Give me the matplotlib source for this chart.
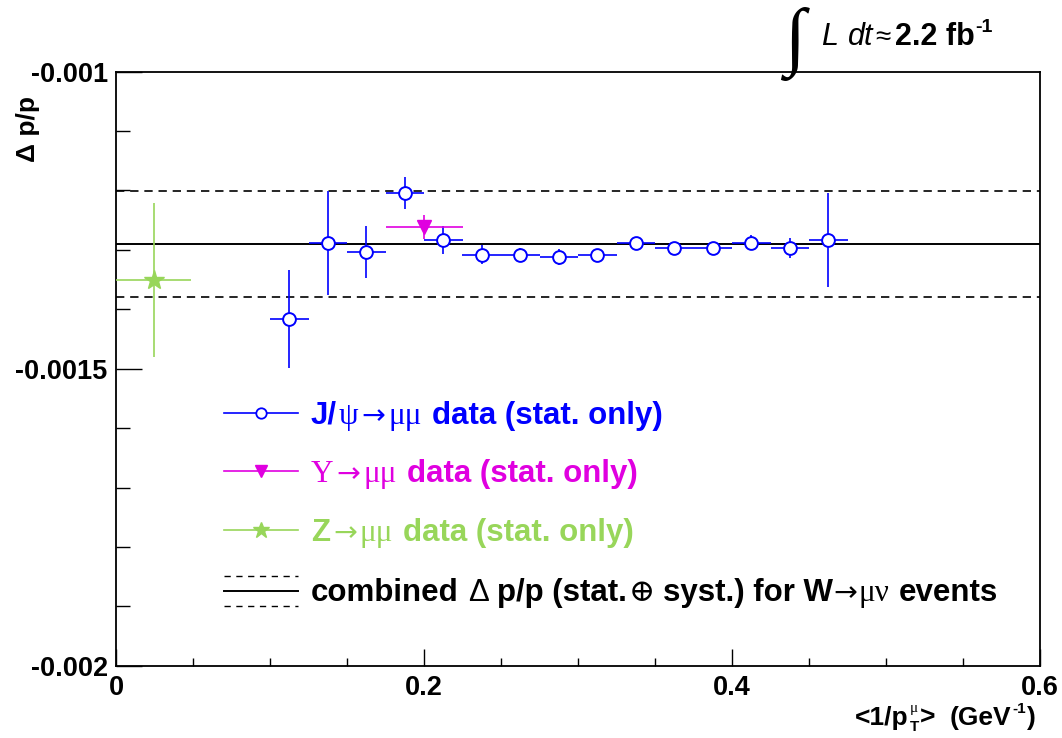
import matplotlib
matplotlib.use("Agg")
import matplotlib.pyplot as plt
from matplotlib.ticker import FixedLocator, MultipleLocator, FixedFormatter
from matplotlib.lines import Line2D

# ---------------- data ----------------
jpsi_x = [0.1125, 0.1375, 0.1625, 0.1875, 0.2125, 0.2375, 0.2625, 0.2875,
          0.3125, 0.3375, 0.3625, 0.3875, 0.4125, 0.4375, 0.4625]
jpsi_xerr = [0.0125] * 15
jpsi_y = [-0.001416, -0.001288, -0.001304, -0.001204, -0.001284, -0.001308,
          -0.001308, -0.0013125, -0.001308, -0.001288, -0.001297, -0.001297,
          -0.001288, -0.001297, -0.001284]
jpsi_yerr = [0.000082, 0.000088, 0.0000435, 0.0000275, 0.0000235, 0.0000163,
             0.0000118, 0.0000135, 0.000008, 0.000008, 0.000006, 0.000006,
             0.000013, 0.0000168, 0.000079]

ups_x = [0.2]
ups_xerr = [0.025]
ups_y = [-0.001261]
ups_yerr = [0.00002]

z_x = [0.0245]
z_xerr = [0.0245]
z_y = [-0.001351]
z_yerr = [0.00013]

w_central = -0.00129
w_band = [-0.0012, -0.00138]

x_ticks = [0.0, 0.2, 0.4, 0.6]
x_ticklabels = ["0", "0.2", "0.4", "0.6"]
y_ticks = [-0.002, -0.0015, -0.001]
y_ticklabels = ["-0.002", "-0.0015", "-0.001"]

BLUE = "#0000ff"
MAG = "#e000e0"
GREEN = "#98d65a"

SANS = ["Liberation Sans", "DejaVu Sans"]
SERIF = ["Liberation Serif", "DejaVu Serif"]
ARROWF = ["DejaVu Sans"]

plt.rcParams["font.family"] = SANS
plt.rcParams["font.weight"] = "bold"

W, H = 1062, 738
fig = plt.figure(figsize=(W / 100, H / 100), dpi=100)
fig.patch.set_facecolor("white")

X0, X1, YT, YB = 116, 1040, 71.7, 665.7
ax = fig.add_axes([X0 / W, 1 - YB / H, (X1 - X0) / W, (YB - YT) / H])
ax.set_xlim(0, 0.6)
ax.set_ylim(-0.002, -0.001)

for s in ax.spines.values():
    s.set_linewidth(1.3)

ax.xaxis.set_major_locator(FixedLocator(x_ticks))
ax.xaxis.set_major_formatter(FixedFormatter(x_ticklabels))
ax.xaxis.set_minor_locator(MultipleLocator(0.05))
ax.yaxis.set_major_locator(FixedLocator(y_ticks))
ax.yaxis.set_major_formatter(FixedFormatter(y_ticklabels))
ax.yaxis.set_minor_locator(MultipleLocator(0.0001))

ax.tick_params(axis="x", which="major", direction="in", length=12, width=1.0,
               top=False, labelsize=19.5, pad=7)
ax.tick_params(axis="x", which="minor", direction="in", length=6, width=1.0, top=False)
ax.tick_params(axis="y", which="major", direction="in", length=19, width=1.0,
               right=False, labelsize=19.5, pad=6)
ax.tick_params(axis="y", which="minor", direction="in", length=10, width=1.0, right=False)
for lab in ax.get_xticklabels() + ax.get_yticklabels():
    lab.set_fontweight("bold")

# W reference lines
ax.axhline(w_central, color="black", lw=1.4, zorder=2)
for yb in w_band:
    ax.axhline(yb, color="black", lw=1.2, ls=(0, (5, 3.5)), zorder=2)

# data
ax.errorbar(jpsi_x, jpsi_y, xerr=jpsi_xerr, yerr=jpsi_yerr, fmt="none",
            ecolor=BLUE, elinewidth=1.2, capsize=0, zorder=3)
ax.plot(jpsi_x, jpsi_y, "o", mfc="white", mec=BLUE, ms=9.2, mew=1.4, zorder=4)

ax.errorbar(ups_x, ups_y, xerr=ups_xerr, yerr=ups_yerr, fmt="none",
            ecolor=MAG, elinewidth=1.2, capsize=0, zorder=3)
ax.plot(ups_x, ups_y, "v", color=MAG, ms=10, zorder=4)

ax.errorbar(z_x, z_y, xerr=z_xerr, yerr=z_yerr, fmt="none",
            ecolor=GREEN, elinewidth=1.2, capsize=0, zorder=3, clip_on=True)
ax.plot(z_x, z_y, "*", color=GREEN, ms=15, zorder=4)


def fx(px):
    return px / W


def fy(py):
    return 1 - py / H


renderer = fig.canvas.get_renderer()


def seg_text(x_px, base_px, segs, color="black"):
    x = x_px
    for s in segs:
        x += s.get("gap", 0)
        t = fig.text(fx(x), fy(base_px - s.get("dy", 0)), s["t"],
                     fontsize=s.get("size", 20), family=s.get("family", SANS),
                     weight=s.get("weight", "bold"), style=s.get("style", "normal"),
                     color=color, ha="left", va="baseline")
        if s.get("adv", True):
            x += t.get_window_extent(renderer).width
    return x


# ---------------- legend ----------------
LX0, LX1 = 224, 298
LXM = (LX0 + LX1) / 2
rows = [413, 471, 530]
fig.add_artist(Line2D([fx(LX0), fx(LX1)], [fy(rows[0])] * 2, color=BLUE, lw=1.2))
fig.add_artist(Line2D([fx(LXM)], [fy(rows[0])], marker="o", mfc="white", mec=BLUE,
                      ms=7.5, mew=1.3, lw=0))
fig.add_artist(Line2D([fx(LX0), fx(LX1)], [fy(rows[1])] * 2, color=MAG, lw=1.2))
fig.add_artist(Line2D([fx(LXM)], [fy(rows[1])], marker="v", color=MAG, ms=9, lw=0))
fig.add_artist(Line2D([fx(LX0), fx(LX1)], [fy(rows[2])] * 2, color=GREEN, lw=1.2))
fig.add_artist(Line2D([fx(LXM)], [fy(rows[2])], marker="*", color=GREEN, ms=12, lw=0))
fig.add_artist(Line2D([fx(LX0), fx(LX1)], [fy(590.5)] * 2, color="black", lw=1.4))
for yy in (576, 606):
    fig.add_artist(Line2D([fx(LX0), fx(LX1)], [fy(yy)] * 2, color="black", lw=1.0,
                          ls=(0, (4.5, 4))))

FS = 22.5
sym = dict(family=SERIF, weight="normal", size=FS)
arr = dict(family=ARROWF, weight="normal", size=FS - 2)
seg_text(311, rows[0] + 11, [
    dict(t="J/", size=FS),
    dict(t="\u03c8", gap=2, **sym),
    dict(t="\u2192", gap=3, **arr),
    dict(t="\u03bc\u03bc", gap=3, **sym),
    dict(t="data (stat. only)", gap=10, size=FS),
], BLUE)
seg_text(311, rows[1] + 11, [
    dict(t="\u03a5", **sym),
    dict(t="\u2192", gap=3, **arr),
    dict(t="\u03bc\u03bc", gap=3, **sym),
    dict(t="data (stat. only)", gap=10, size=FS),
], MAG)
seg_text(311, rows[2] + 11, [
    dict(t="Z", size=FS),
    dict(t="\u2192", gap=3, **arr),
    dict(t="\u03bc\u03bc", gap=3, **sym),
    dict(t="data (stat. only)", gap=10, size=FS),
], GREEN)
seg_text(311, 590 + 11, [
    dict(t="combined", size=FS),
    dict(t="\u0394", gap=9, size=FS, weight="normal"),
    dict(t="p/p (stat.", gap=8, size=FS),
    dict(t="\u2295", gap=2, family=SERIF, weight="normal", size=FS),
    dict(t="syst.) for W", gap=8, size=FS),
    dict(t="\u2192", gap=1, **arr),
    dict(t="\u03bc\u03bd", gap=1, **sym),
    dict(t="events", gap=9, size=FS),
], "black")

# ---------------- top luminosity label ----------------
fig.text(fx(784), fy(61), "\u222b", fontsize=55, family=SERIF, weight="normal",
         ha="left", va="baseline")
fig.text(fx(821), fy(45), "L", fontsize=22, style="italic", weight="normal",
         ha="left", va="baseline")
fig.text(fx(848), fy(45), "dt", fontsize=22, style="italic", weight="normal",
         ha="left", va="baseline")
fig.text(fx(875), fy(45), "\u2248", fontsize=20, weight="normal",
         ha="left", va="baseline")
xf = seg_text(895, 45, [dict(t="2.2 fb", size=22)])
fig.text(fx(xf + 1), fy(32), "-1", fontsize=14, weight="bold",
         ha="left", va="baseline")

# ---------------- axis titles ----------------
fig.text(fx(28), fy(96), "\u0394 p/p", fontsize=19, weight="bold", rotation=90,
         ha="center", va="top")

xb = 725
x = seg_text(855, xb, [dict(t="<1/p", size=19)])
fig.text(fx(x + 1), fy(xb - 13), "\u03bc", fontsize=11, family=SERIF,
         weight="normal", ha="left", va="baseline")
x2 = seg_text(x + 1, xb + 6, [dict(t="T", size=11)])
x3 = seg_text(max(x2, x + 8) + 1, xb, [
    dict(t=">", size=19),
    dict(t="(GeV", gap=14, size=19),
])
x4 = seg_text(x3 + 1, xb - 12, [dict(t="-1", size=11)])
seg_text(x4 + 1, xb, [dict(t=")", size=19)])

fig.savefig("out.png", dpi=100, facecolor="white")
